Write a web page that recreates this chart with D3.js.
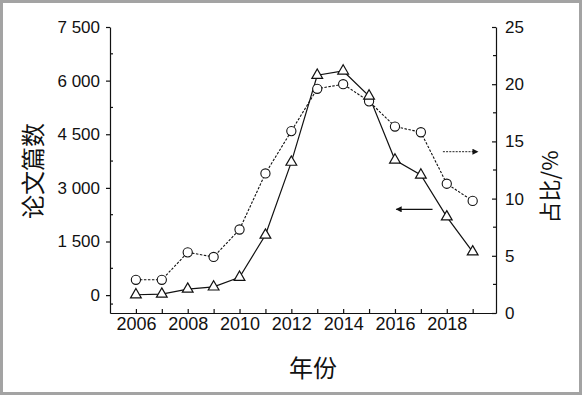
<!DOCTYPE html>
<html>
<head>
<meta charset="utf-8">
<script src="https://cdn.jsdelivr.net/npm/d3@7"></script>
<style>
    body { margin: 0; background: #fff; }
    svg { display: block; }
    .tick-label { font-family: "Liberation Sans", Arial, sans-serif; font-size: 17px; fill: #111; }
    .axis-title { font-family: "Noto Sans CJK SC", sans-serif; font-size: 24px; fill: #111; }
    .axis path, .axis line { stroke: #111; stroke-width: 1.2; }
</style>
</head>
<body>
<script>
// data
var years = [2006, 2007, 2008, 2009, 2010, 2011, 2012, 2013, 2014, 2015, 2016, 2017, 2018, 2019];
var paperCounts = [10, 30, 170, 230, 500, 1680, 3720, 6150, 6270, 5570, 3780, 3360, 2190, 1210];
var shares = [2.9, 2.9, 5.3, 4.9, 7.3, 12.2, 15.9, 19.6, 20.0, 18.5, 16.3, 15.8, 11.3, 9.8];
var leftTicks = [0, 1500, 3000, 4500, 6000, 7500];
var rightTicks = [0, 5, 10, 15, 20, 25];
var xLabelYears = [2006, 2008, 2010, 2012, 2014, 2016, 2018];
// arrows telling which axis a series belongs to (data units)
var shareArrow = {from: 2017.85, to: 2019.2, value: 14.1};
var countArrow = {from: 2017.45, to: 2016.05, value: 2400};

var W = 582, H = 395;
var margin = {top: 27, right: 86, bottom: 82, left: 110},
    width = W - margin.left - margin.right,
    height = H - margin.top - margin.bottom;

var root = d3.select("body").append("svg")
    .attr("width", W)
    .attr("height", H);

// grey frame
root.append("rect")
    .attr("x", 1.5).attr("y", 1.5)
    .attr("width", W - 3).attr("height", H - 3)
    .attr("fill", "#fff")
    .attr("stroke", "#a3a3a3")
    .attr("stroke-width", 3);

var svg = root.append("g")
    .attr("transform", "translate(" + margin.left + "," + margin.top + ")");

var x = d3.scaleLinear().domain([2005, 2019.9]).range([0, width]);
var yL = d3.scaleLinear().domain([-500, 7500]).range([height, 0]);
var yR = d3.scaleLinear().domain([0, 25]).range([height, 0]);

var fmt = d3.formatLocale({decimal: ".", thousands: " ", grouping: [3], currency: ["", ""]}).format(",d");

// bottom axis: tick every year pointing in, label every other year
var xAxis = svg.append("g")
    .attr("class", "axis")
    .attr("transform", "translate(0," + height + ")")
    .call(d3.axisBottom(x)
        .tickValues(years)
        .tickSizeInner(-4)
        .tickSizeOuter(0)
        .tickPadding(4)
        .tickFormat(d => xLabelYears.indexOf(d) >= 0 ? d : ""));
xAxis.selectAll("text").attr("class", "tick-label").attr("fill", null)
    .style("font-size", "18px");

// left axis
var leftAxis = svg.append("g")
    .attr("class", "axis")
    .call(d3.axisLeft(yL)
        .tickValues(leftTicks)
        .tickSizeInner(4)
        .tickSizeOuter(0)
        .tickPadding(6)
        .tickFormat(fmt));
leftAxis.selectAll("text").attr("class", "tick-label").attr("fill", null);
leftAxis.selectAll(".minor")
    .data(leftTicks.slice(0, -1).map(d => d + 750).concat([-500 + 250]))
    .enter()
    .append("line")
    .attr("class", "minor")
    .attr("x1", 0).attr("x2", 3)
    .attr("y1", d => yL(d)).attr("y2", d => yL(d));

// right axis
var rightAxis = svg.append("g")
    .attr("class", "axis")
    .attr("transform", "translate(" + width + ",0)")
    .call(d3.axisRight(yR)
        .tickValues(rightTicks)
        .tickSizeInner(-4)
        .tickSizeOuter(0)
        .tickPadding(9));
rightAxis.selectAll("text").attr("class", "tick-label").attr("fill", null);
rightAxis.selectAll(".minor")
    .data(rightTicks.slice(0, -1).map(d => d + 2.5))
    .enter()
    .append("line")
    .attr("class", "minor")
    .attr("x1", 0).attr("x2", -3)
    .attr("y1", d => yR(d)).attr("y2", d => yR(d));

// titles
svg.append("text")
    .attr("class", "axis-title")
    .attr("transform", "translate(" + (31 - margin.left) + "," + (171 - margin.top) + ") rotate(-90)")
    .attr("text-anchor", "middle")
    .attr("dominant-baseline", "central")
    .text("论文篇数");

svg.append("text")
    .attr("class", "axis-title")
    .style("font-size", "22px")
    .attr("transform", "translate(" + (548 - margin.left) + "," + (187 - margin.top) + ") rotate(-90)")
    .attr("text-anchor", "middle")
    .attr("dominant-baseline", "central")
    .text("占比/%");

svg.append("text")
    .attr("class", "axis-title")
    .attr("x", 313 - margin.left)
    .attr("y", 366 - margin.top)
    .attr("text-anchor", "middle")
    .attr("dominant-baseline", "central")
    .text("年份");

// series
var countData = years.map((yr, i) => ({year: yr, value: paperCounts[i]}));
var shareData = years.map((yr, i) => ({year: yr, value: shares[i]}));

svg.append("path")
    .datum(shareData)
    .attr("fill", "none")
    .attr("stroke", "#111")
    .attr("stroke-width", 1.1)
    .attr("stroke-dasharray", "2.5,1.5")
    .attr("d", d3.line().x(d => x(d.year)).y(d => yR(d.value)));

svg.append("path")
    .datum(countData)
    .attr("fill", "none")
    .attr("stroke", "#111")
    .attr("stroke-width", 1.2)
    .attr("d", d3.line().x(d => x(d.year)).y(d => yL(d.value)));

svg.selectAll(".share-dot")
    .data(shareData)
    .enter()
    .append("circle")
    .attr("class", "share-dot")
    .attr("cx", d => x(d.year))
    .attr("cy", d => yR(d.value))
    .attr("r", 4.6)
    .attr("fill", "#fff")
    .attr("stroke", "#111")
    .attr("stroke-width", 1.1);

var tri = d3.symbol().type(d3.symbolTriangle).size(50);
svg.selectAll(".count-dot")
    .data(countData)
    .enter()
    .append("path")
    .attr("class", "count-dot")
    .attr("transform", d => "translate(" + x(d.year) + "," + yL(d.value) + ")")
    .attr("d", tri)
    .attr("fill", "#fff")
    .attr("stroke", "#111")
    .attr("stroke-width", 1.2);

// little arrows
var defs = root.append("defs");
defs.append("marker")
    .attr("id", "head")
    .attr("viewBox", "0 0 10 10")
    .attr("refX", 9).attr("refY", 5)
    .attr("markerWidth", 7).attr("markerHeight", 6)
    .attr("markerUnits", "userSpaceOnUse")
    .attr("orient", "auto")
    .append("path")
    .attr("d", "M0,0L10,5L0,10Z")
    .attr("fill", "#111");

svg.append("line")
    .attr("x1", x(shareArrow.from)).attr("x2", x(shareArrow.to))
    .attr("y1", yR(shareArrow.value)).attr("y2", yR(shareArrow.value))
    .attr("stroke", "#222")
    .attr("stroke-width", 1)
    .attr("stroke-dasharray", "2,1.2")
    .attr("marker-end", "url(#head)");

svg.append("line")
    .attr("x1", x(countArrow.from)).attr("x2", x(countArrow.to))
    .attr("y1", yL(countArrow.value)).attr("y2", yL(countArrow.value))
    .attr("stroke", "#111")
    .attr("stroke-width", 1.3)
    .attr("marker-end", "url(#head)");
</script>
</body>
</html>
